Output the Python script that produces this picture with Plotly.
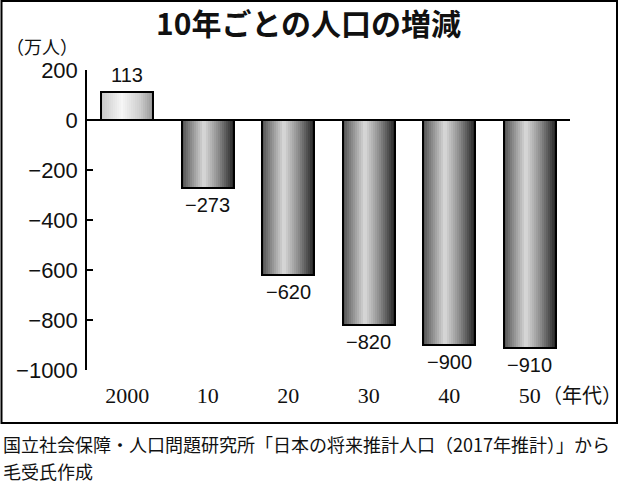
import plotly.graph_objects as go
import numpy as np

categories = ["2000", "10", "20", "30", "40", "50"]
values = [113, -273, -620, -820, -900, -910]
value_labels = ["113", "−273", "−620", "−820", "−900", "−910"]
y_tickvals = [200, 0, -200, -400, -600, -800, -1000]
y_ticktext = ["200", "0", "−200", "−400", "−600", "−800", "−1000"]

BAR_W = 0.65
K = 26

# gradient stops (position, grey level) for dark bars and the light first bar
dark_stops = ([0.0, 0.15, 0.42, 0.7, 0.9, 1.0], [80, 130, 218, 140, 70, 35])
light_stops = ([0.0, 0.4, 0.75, 1.0], [200, 246, 205, 150])


def grey(stops, t):
    v = int(round(np.interp(t, stops[0], stops[1])))
    return f"rgb({v},{v},{v})"


fig = go.Figure()
xs = list(range(len(categories)))
sw = BAR_W / K
for i in range(K):
    t = (i + 0.5) / K
    cols = [grey(light_stops if v > 0 else dark_stops, t) for v in values]
    fig.add_trace(go.Bar(
        x=xs, y=values, width=sw * 1.2, offset=-BAR_W / 2 + i * sw,
        marker=dict(color=cols, line=dict(width=0)),
        hoverinfo="skip", showlegend=False,
    ))

fig.add_trace(go.Bar(
    x=xs, y=values, width=BAR_W,
    marker=dict(color="rgba(0,0,0,0)", line=dict(color="black", width=2)),
    hoverinfo="skip", showlegend=False,
))

for x, v, lab in zip(xs, values, value_labels):
    fig.add_annotation(
        x=x, y=v, text=lab, showarrow=False,
        yanchor="bottom" if v > 0 else "top",
        yshift=4 if v > 0 else -4,
        font=dict(family="Liberation Sans, Arial", size=20, color="#111"),
    )

fig.update_layout(
    width=620, height=486,
    margin=dict(l=87, r=50, t=70, b=116),
    paper_bgcolor="white", plot_bgcolor="white",
    barmode="overlay", bargap=0,
    showlegend=False,
    xaxis=dict(
        tickmode="array", tickvals=xs, ticktext=categories,
        range=[-0.5, 5.5], showgrid=False, zeroline=False, showline=False,
        ticks="", tickfont=dict(family="Liberation Serif, Times New Roman", size=22, color="#111"),
        ticklabelstandoff=10,
    ),
    yaxis=dict(
        range=[-1000, 200], tickmode="array", tickvals=y_tickvals, ticktext=y_ticktext,
        showgrid=False, zeroline=True, zerolinecolor="black", zerolinewidth=2,
        showline=True, linecolor="black", linewidth=1.5,
        ticks="inside", ticklen=6, tickwidth=1.5, tickcolor="black",
        tickfont=dict(family="Liberation Sans, Arial", size=22, color="#111"),
        ticklabelstandoff=3,
    ),
)

fig.add_shape(type="rect", xref="paper", yref="paper",
              x0=(1.5 - 87) / 483, x1=(617 - 87) / 483,
              y0=(370 - 423) / 300, y1=(370 - 1) / 300,
              line=dict(color="black", width=2), fillcolor="rgba(0,0,0,0)")

cjk = "Noto Sans CJK JP"


def note(text, px, py, size, family=cjk, xanchor="left"):
    fig.add_annotation(text=text, xref="paper", yref="paper",
                       x=(px - 87) / 483, y=(370 - py) / 300,
                       xanchor=xanchor, yanchor="middle", showarrow=False,
                       font=dict(family=family, size=size, color="#111"))


note("<b>10年ごとの人口の増減</b>", 308, 22, 30, xanchor="center")
note("（万人）", 4, 46, 18)
note("（年代）", 540, 396, 20, family="Liberation Serif, " + cjk)
note("国立社会保障・人口問題研究所「日本の将来推計人口（2017年推計）」から", 1, 444, 18)
note("毛受氏作成", 1, 471, 18)

fig.write_html("out.html")
